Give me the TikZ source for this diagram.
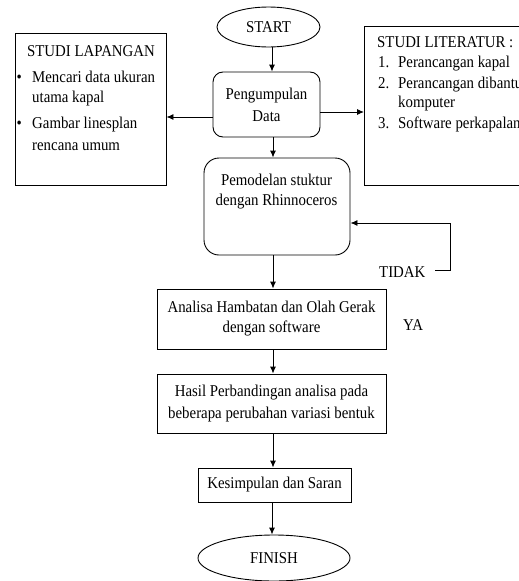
\documentclass[tikz,border=0pt]{standalone}
\usepackage{fontspec}
\setmainfont{Liberation Serif}[FakeStretch=0.9]
\usetikzlibrary{shapes.geometric,arrows.meta}
\begin{document}
\begin{tikzpicture}[x=1pt,y=-1pt,
  font=\fontsize{16.5}{21}\selectfont,
  box/.style={draw, line width=0.9pt, inner sep=0pt},
  rbox/.style={box, rounded corners=10pt},
  oval/.style={box, ellipse},
  arr/.style={draw, line width=0.9pt, -{Latex[length=7pt,width=6pt]}},
  txt/.style={inner sep=0pt, anchor=base west}]
\useasboundingbox (0,0) rectangle (519,581);
\clip (0,0) rectangle (519,581);

% main column
\node[oval, minimum width=103pt, minimum height=40pt] (start) at (268.5,27) {START};
\node[rbox, minimum width=107pt, minimum height=65pt, align=center, font=\fontsize{16.5}{22}\selectfont] (pd) at (266.5,104.5) {Pengumpulan\\Data};
\node[rbox, rounded corners=15pt, minimum width=146pt, minimum height=97pt] (pm) at (277,206.5) {};
\node[inner sep=0pt, align=center, font=\fontsize{16.5}{20}\selectfont] (pmt) at (276.5,191.2) {Pemodelan stuktur\\dengan Rhinnoceros};
\node[box, minimum width=229pt, minimum height=60pt, align=center, font=\fontsize{16.5}{20}\selectfont] (an) at (271.5,319) {Analisa Hambatan dan Olah Gerak\\dengan software};
\node[box, minimum width=229pt, minimum height=59pt, align=center, font=\fontsize{16.5}{22}\selectfont] (hs) at (271.5,403.5) {Hasil Perbandingan analisa pada\\beberapa perubahan variasi bentuk};
\node[box, minimum width=153pt, minimum height=34pt] (ks) at (274.5,485) {Kesimpulan dan Saran};
\node[oval, minimum width=152pt, minimum height=46pt] (fin) at (274,558) {FINISH};

% side boxes
\node[box, minimum width=151pt, minimum height=152pt] (lap) at (90.5,109) {};
\node[txt, anchor=base] (lapT) at (91,56) {STUDI LAPANGAN};
\node[txt] (b1) at (16.5,82) {•};
\node[txt] (l1) at (32,82) {Mencari data ukuran};
\node[txt] (l2) at (32,102) {utama kapal};
\node[txt] (b2) at (16.5,128) {•};
\node[txt] (l3) at (32,128) {Gambar linesplan};
\node[txt] (l4) at (32,150) {rencana umum};

\node[box, minimum width=170pt, minimum height=159pt, anchor=north west] (lit) at (364,26) {};
\node[txt] (litT) at (377,47) {STUDI LITERATUR :};
\node[txt] (n1) at (378,67) {1.};
\node[txt] (m1) at (398,67) {Perancangan kapal};
\node[txt] (n2) at (378,88) {2.};
\node[txt] (m2) at (398,88) {Perancangan dibantu};
\node[txt] (m2b) at (398,107) {komputer};
\node[txt] (n3) at (378,128) {3.};
\node[txt] (m3) at (398,128) {Software perkapalan};

% labels
\node[txt] (tidak) at (379,277) {TIDAK};
\node[txt] (ya) at (403,330) {YA};
\coordinate (tk) at (435,270);

% connectors
\draw[arr] (start.south -| 272,0) -- (pd.north -| 272,0);
\draw[arr] (pd.west |- 0,117) -- (lap.east |- 0,117);
\draw[arr] (pd.east |- 0,112) -- (lit.west |- 0,112);
\draw[arr] (pd.south -| 273,0) -- (pm.north -| 273,0);
\draw[arr] (tk) -- (450,270) -- (450,223) -- (pm.east |- 0,223);
\draw[arr] (pm.south -| 273,0) -- (an.north -| 273,0);
\draw[arr] (an.south -| 273,0) -- (hs.north -| 273,0);
\draw[arr] (hs.south -| 273,0) -- (ks.north -| 273,0);
\draw[arr] (ks.south -| 272,0) -- (fin.north -| 272,0);
\end{tikzpicture}
\end{document}
